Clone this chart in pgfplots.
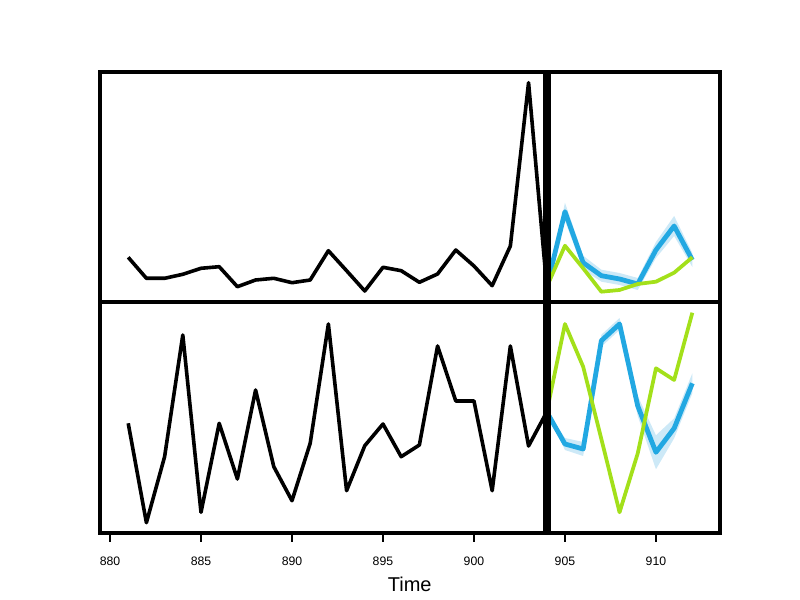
\documentclass[border=0pt]{standalone}
\usepackage{pgfplots}
\pgfplotsset{compat=1.18}
\usepackage{fontspec}
\setmainfont{Liberation Sans}
\definecolor{fcblue}{RGB}{34,168,226}
\definecolor{fcband}{RGB}{205,233,247}
\definecolor{fcgreen}{RGB}{163,224,26}
\pgfplotsset{
  panel/.style={
    anchor=south west, width=465pt, scale only axis,
    xmin=879.45, xmax=913.52,
    axis line style={line width=2.5pt},
    every axis plot/.append style={no markers, sharp plot, line join=round},
  },
  obs/.style={black, line width=2.7pt},
  fc1/.style={fcblue, line width=3.6pt},
  fc2/.style={fcgreen, line width=2.8pt},
  band/.style={fill=fcband, draw=none},
  bar/.style={black, line width=6pt},
}
\begin{document}
\begin{tikzpicture}
\path (0,0) rectangle (600pt,450pt);
% top panel
\begin{axis}[panel, at={(75pt,223.5pt)}, height=172.5pt, ymin=298, ymax=528, xtick=\empty, ytick=\empty]
\addplot[obs] coordinates {
(881,342.7) (882,321.7) (883,321.7) (884,325.7) (885,331.7) (886,333.3)
(887,313.3) (888,320) (889,321.7) (890,317.3) (891,320) (892,349.3)
(893,329.3) (894,309) (895,332.7) (896,329.3) (897,317.7) (898,326)
(899,350) (900,334) (901,314.3) (902,354) (903,517.3) (904,313)};
\addplot[band] coordinates {
(904,313) (905,397.3) (906,344.3) (907,330.3) (908,327) (909,322) (910,358) (911,384) (912,347)
(912,333) (911,364) (910,342) (909,310) (908,315) (907,318.3) (906,330.3) (905,379.3) (904,313)} -- cycle;
\addplot[fc1] coordinates {
(904,313) (905,388.3) (906,337.3) (907,324.3) (908,321) (909,316) (910,350) (911,374) (912,340)};
\addplot[fc2] coordinates {
(904,313) (905,354.3) (906,331.7) (907,308.3) (908,310) (909,316) (910,318.3) (911,327.3) (912,342.7)};
\addplot[bar] coordinates {(904,298) (904,528)};
\end{axis}
% bottom panel
\begin{axis}[panel, at={(75pt,50.25pt)}, height=173.25pt, ymin=67, ymax=298, clip=false,
  xtick={880,885,...,910}, ytick=\empty, xtick pos=left, tick align=outside,
  major tick length=6.5pt,
  tick style={line width=2pt, black},
  xticklabel style={font=\fontsize{9.2}{10}\selectfont, anchor=north, yshift=-8pt},
  /pgf/number format/assume math mode=true,
  /pgf/number format/set thousands separator={}]
\addplot[obs] coordinates {
(881,176.7) (882,77.3) (883,143.3) (884,265) (885,87.7) (886,176.7)
(887,121) (888,210) (889,133.3) (890,99.3) (891,156.7) (892,276)
(893,109.3) (894,154.3) (895,176) (896,143.3) (897,155) (898,254)
(899,199) (900,199) (901,109.3) (902,254) (903,154) (904,188)};
\addplot[band] coordinates {
(904,188) (905,162) (906,158) (907,265.3) (908,282) (909,204) (910,164.7) (911,181.7) (912,226.7)
(912,206.7) (911,161.7) (910,130.7) (909,184) (908,270) (907,253.3) (906,144) (905,150) (904,188)} -- cycle;
\addplot[fc1] coordinates {
(904,188) (905,156) (906,151) (907,259.3) (908,276) (909,194) (910,147.7) (911,171.7) (912,216.7)};
\addplot[fc2] coordinates {
(904,188) (905,276) (906,233.3) (907,161) (908,87.7) (909,146.7) (910,231.7) (911,220) (912,287.3)};
\addplot[bar] coordinates {(904,67) (904,298)};
\end{axis}
\node[anchor=base, font=\fontsize{15}{17}\selectfont] at (307.3pt,6.2pt) {Time};
\end{tikzpicture}
\end{document}
